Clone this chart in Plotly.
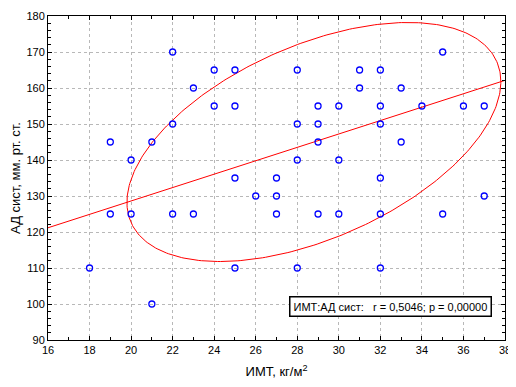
import numpy as np
import plotly.graph_objects as go

# Observed points (ИМТ, АД сист)
imt = [22, 23, 22, 19, 21, 20, 24, 25, 28, 31, 31, 24, 25, 29, 30, 28, 29, 29, 28, 30,
       35, 32, 33, 32, 34, 36, 37, 32, 33, 19, 20, 22, 23, 18, 21, 25, 27, 26, 27, 27,
       29, 30, 25, 28, 32, 37, 32, 35, 32]
ad = [170, 160, 150, 145, 145, 140, 165, 165, 165, 165, 160, 155, 155, 155, 155, 150, 150, 145, 140, 140,
      170, 165, 160, 155, 155, 155, 155, 150, 145, 125, 125, 125, 125, 110, 100, 135, 135, 130, 130, 125,
      125, 125, 110, 110, 135, 130, 125, 125, 110]

# Summary statistics (means, 95% ellipse half-extents, r)
mean_x = 28.8
mean_y = 145.0
ext_x = 9.0
ext_y = 33.2
r = 0.5046
x_range = [16, 38]
y_range = [90, 180]

# Regression line through the means
slope = r * ext_y / ext_x
fit_x = np.array(x_range, dtype=float)
fit_y = mean_y + slope * (fit_x - mean_x)

# 95% confidence ellipse
t = np.linspace(0, 2 * np.pi, 361)
ell_x = mean_x + ext_x * np.cos(t)
ell_y = mean_y + ext_y * (r * np.cos(t) + np.sqrt(1 - r ** 2) * np.sin(t))

fig = go.Figure()
fig.add_trace(go.Scatter(x=ell_x, y=ell_y, mode="lines",
                         line=dict(color="#ff0000", width=1), hoverinfo="skip"))
fig.add_trace(go.Scatter(x=fit_x, y=fit_y, mode="lines",
                         line=dict(color="#ff0000", width=1), hoverinfo="skip"))
fig.add_trace(go.Scatter(x=imt, y=ad, mode="markers",
                         marker=dict(symbol="circle-open", size=6, color="#0000ff",
                                     line=dict(width=1.3, color="#0000ff"))))

axis_common = dict(
    showline=True, linecolor="black", linewidth=1, mirror="ticks",
    ticks="inside", tickcolor="black", ticklen=4, automargin=False,
    showgrid=True, gridcolor="#b8b8b8", griddash="dot", gridwidth=1,
    zeroline=False, tickfont=dict(family="Liberation Sans, Arial", size=11, color="black"),
    ticklabeloverflow="allow",
)

fig.update_xaxes(range=x_range, dtick=2, tick0=16,
                 minor=dict(dtick=1, ticks="inside", ticklen=3, tickcolor="black", showgrid=False),
                 title=dict(text="ИМТ, кг/м<sup>2</sup>", font=dict(family="Liberation Sans, Arial", size=13, color="black"), standoff=12),
                 **axis_common)
fig.update_yaxes(range=y_range, dtick=10, tick0=90,
                 minor=dict(dtick=2, ticks="inside", ticklen=3, tickcolor="black", showgrid=False),
                 title=dict(text="АД сист, мм. рт. ст.", font=dict(family="Liberation Sans, Arial", size=13, color="black"), standoff=6),
                 **axis_common)

fig.add_annotation(xref="paper", yref="paper", x=0.7505, y=0.102,
                   xanchor="center", yanchor="middle",
                   text="ИМТ:АД сист:   r = 0,5046; p = 0,00000",
                   showarrow=False, bgcolor="white", bordercolor="black", borderwidth=1.5,
                   borderpad=3, font=dict(family="Liberation Sans, Arial", size=11, color="black"))

# page body adds an 8 px margin around the figure
fig.update_layout(width=508, height=371, showlegend=False,
                  margin=dict(l=40, r=11, t=8, b=39),
                  plot_bgcolor="white", paper_bgcolor="white")

fig.write_html("out.html")
